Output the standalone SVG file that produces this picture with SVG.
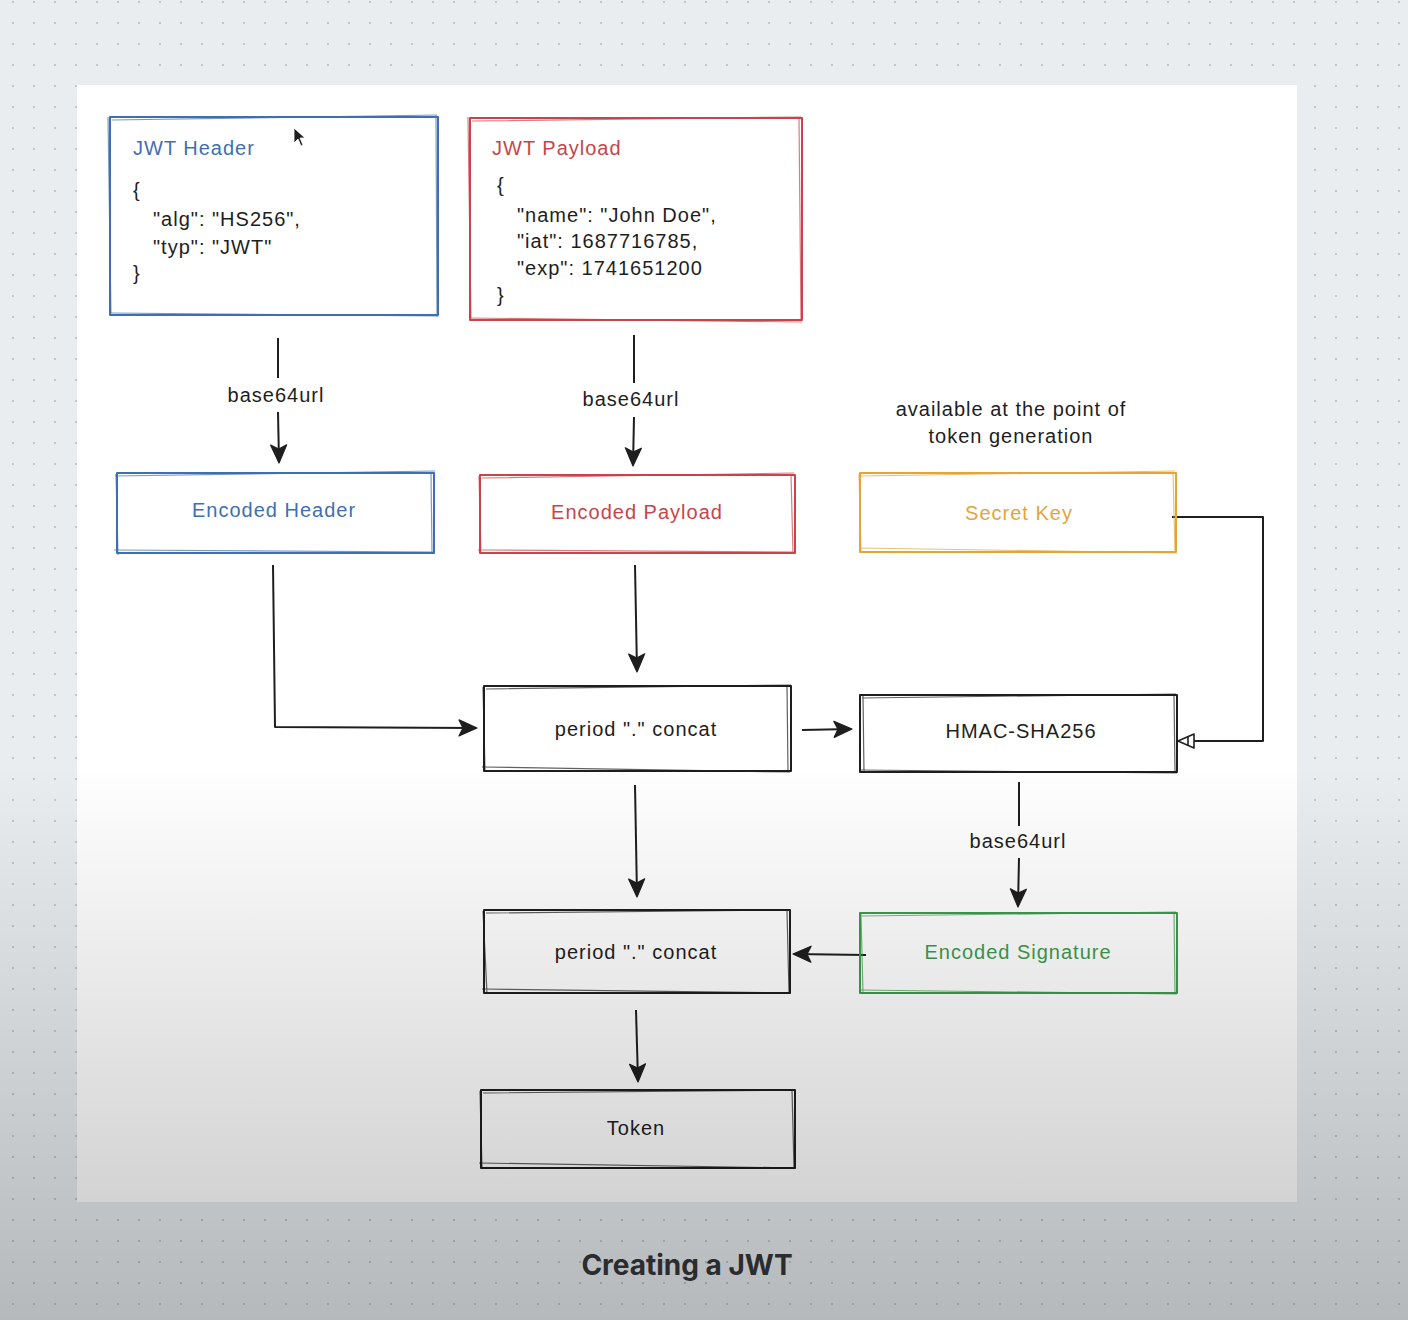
<svg xmlns="http://www.w3.org/2000/svg" width="1408" height="1320" viewBox="0 0 1408 1320">
  <defs>
    <pattern id="dots" x="0" y="0" width="21" height="21" patternUnits="userSpaceOnUse">
      <circle cx="13" cy="2" r="1.1" fill="#b8bec4"/>
    </pattern>
    <linearGradient id="fade" x1="0" y1="0" x2="0" y2="1320" gradientUnits="userSpaceOnUse">
      <stop offset="0" stop-color="#000" stop-opacity="0"/>
      <stop offset="0.58" stop-color="#000" stop-opacity="0"/>
      <stop offset="1" stop-color="#000" stop-opacity="0.22"/>
    </linearGradient>
    <marker id="arrow" viewBox="0 0 20 20" refX="18" refY="10" markerWidth="20" markerHeight="20" markerUnits="userSpaceOnUse" orient="auto">
      <path d="M1,2 L19,10 L1,18 L5,10 Z" fill="#1e1e1e" stroke="#1e1e1e" stroke-width="1.2" stroke-linejoin="round"/>
    </marker>
    <marker id="arrowOpen" viewBox="0 0 20 20" refX="18" refY="10" markerWidth="20" markerHeight="20" markerUnits="userSpaceOnUse" orient="auto">
      <path d="M2,3 L18,10 L2,17 Z M8,6 L8,14" fill="#fff" stroke="#1e1e1e" stroke-width="1.6" stroke-linejoin="round"/>
    </marker>
  </defs>
  <style>
    .hand { font-family: "Liberation Sans", "DejaVu Sans", sans-serif; font-size: 20px; fill: #1e1e1e; letter-spacing: 1px; }
    .mid { text-anchor: middle; }
    .box { fill: none; stroke-width: 2; stroke-linejoin: round; }
    .sk { fill: none; stroke-width: 1.2; opacity: 0.7; }
    .blue { stroke: #3f6fb0; }
    .red { stroke: #c9444a; }
    .orange { stroke: #e3a53a; }
    .green { stroke: #3f9b4e; }
    .black { stroke: #1e1e1e; }
    .tblue { fill: #3f6fb0; }
    .tred { fill: #c9444a; }
    .torange { fill: #e3a53a; }
    .tgreen { fill: #3f9b4e; }
    .edge { fill: none; stroke: #1e1e1e; stroke-width: 2; stroke-linejoin: round; }
    .title { font-family: Inter, "Liberation Sans", sans-serif; font-weight: 700; font-size: 28px; fill: #2a2c30; }
  </style>

  <!-- canvas background with dot grid -->
  <rect x="0" y="0" width="1408" height="1320" fill="#e9edf0"/>
  <rect x="0" y="0" width="1408" height="1320" fill="url(#dots)"/>
  <!-- drawing sheet -->
  <rect x="77" y="85" width="1220" height="1117" fill="#ffffff"/>

  <!-- connectors -->
  <g id="connectors">
    <path class="edge" d="M278,338 L278,378" />
    <path class="edge" d="M278,412 L279,462" marker-end="url(#arrow)"/>
    <path class="edge" d="M634,335 L634,383" />
    <path class="edge" d="M634,417 L633,465" marker-end="url(#arrow)"/>
    <path class="edge" d="M273,565 L275,727 L476,728" marker-end="url(#arrow)"/>
    <path class="edge" d="M635,565 L637,671" marker-end="url(#arrow)"/>
    <path class="edge" d="M802,730 L851,729" marker-end="url(#arrow)"/>
    <path class="edge" d="M1172,517 L1263,517 L1263,741 L1178,741" marker-end="url(#arrowOpen)"/>
    <path class="edge" d="M1019,782 L1019,826" />
    <path class="edge" d="M1019,858 L1018,906" marker-end="url(#arrow)"/>
    <path class="edge" d="M866,955 L794,954" marker-end="url(#arrow)"/>
    <path class="edge" d="M635,785 L637,896" marker-end="url(#arrow)"/>
    <path class="edge" d="M636,1010 L638,1081" marker-end="url(#arrow)"/>
    <text class="hand mid" x="276" y="402">base64url</text>
    <text class="hand mid" x="631" y="406">base64url</text>
    <text class="hand mid" x="1018" y="848">base64url</text>
  </g>

  <!-- JWT Header -->
  <g id="jwt-header">
    <rect class="box blue" x="110" y="117" width="328" height="198"/>
    <path class="sk blue" d="M112,120 L437,115 M108,117 L111,316 M110,313 L438,316 M436,115 L437,317"/>
    <text class="hand tblue" x="133" y="155">JWT Header</text>
    <text class="hand" x="133" y="197">{</text>
    <text class="hand" x="153" y="226">"alg": "HS256",</text>
    <text class="hand" x="153" y="254">"typ": "JWT"</text>
    <text class="hand" x="133" y="280">}</text>
  </g>

  <!-- JWT Payload -->
  <g id="jwt-payload">
    <rect class="box red" x="470" y="118" width="332" height="202"/>
    <path class="sk red" d="M472,121 L801,117 M468,117 L471,321 M469,318 L802,322 M799,119 L801,321"/>
    <text class="hand tred" x="492" y="155">JWT Payload</text>
    <text class="hand" x="497" y="192">{</text>
    <text class="hand" x="517" y="222">"name": "John Doe",</text>
    <text class="hand" x="517" y="248">"iat": 1687716785,</text>
    <text class="hand" x="517" y="275">"exp": 1741651200</text>
    <text class="hand" x="497" y="302">}</text>
  </g>

  <!-- Encoded Header -->
  <g id="encoded-header">
    <rect class="box blue" x="117" y="473" width="317" height="80"/>
    <path class="sk blue" d="M115,476 L435,471 M116,474 L118,555 M114,550 L434,552 M431,472 L432,554"/>
    <text class="hand tblue mid" x="274" y="517">Encoded Header</text>
  </g>

  <!-- Encoded Payload -->
  <g id="encoded-payload">
    <rect class="box red" x="480" y="475" width="315" height="78"/>
    <path class="sk red" d="M482,478 L794,473 M479,476 L481,554 M478,550 L796,552 M791,474 L793,554"/>
    <text class="hand tred mid" x="637" y="519">Encoded Payload</text>
  </g>

  <!-- Secret Key -->
  <g id="secret-key">
    <text class="hand mid" x="1011" y="416">available at the point of</text>
    <text class="hand mid" x="1011" y="443">token generation</text>
    <rect class="box orange" x="860" y="473" width="316" height="79"/>
    <path class="sk orange" d="M861,476 L1175,471 M859,474 L861,552 M860,548 L1177,553 M1173,472 L1175,553"/>
    <text class="hand torange mid" x="1019" y="520">Secret Key</text>
  </g>

  <!-- First concat -->
  <g id="concat-1">
    <rect class="box black" x="484" y="686" width="307" height="85"/>
    <path class="sk black" d="M486,689 L791,685 M483,687 L485,771 M482,767 L790,772 M787,686 L788,772"/>
    <text class="hand mid" x="636" y="736">period "." concat</text>
  </g>

  <!-- HMAC-SHA256 -->
  <g id="hmac">
    <rect class="box black" x="860" y="695" width="317" height="77"/>
    <path class="sk black" d="M862,698 L1176,694 M863,696 L864,773 M859,770 L1177,773 M1174,695 L1175,773"/>
    <text class="hand mid" x="1021" y="738">HMAC-SHA256</text>
  </g>

  <!-- Encoded Signature -->
  <g id="encoded-signature">
    <rect class="box green" x="860" y="913" width="317" height="80"/>
    <path class="sk green" d="M862,916 L1176,912 M861,914 L863,994 M859,990 L1177,994 M1174,912 L1175,994"/>
    <text class="hand tgreen mid" x="1018" y="959">Encoded Signature</text>
  </g>

  <!-- Second concat -->
  <g id="concat-2">
    <rect class="box black" x="484" y="910" width="306" height="83"/>
    <path class="sk black" d="M486,913 L790,910 M483,911 L487,994 M482,989 L791,993 M787,911 L789,994"/>
    <text class="hand mid" x="636" y="959">period "." concat</text>
  </g>

  <!-- Token -->
  <g id="token">
    <rect class="box black" x="481" y="1090" width="314" height="78"/>
    <path class="sk black" d="M483,1093 L795,1090 M480,1091 L482,1169 M479,1163 L796,1168 M792,1090 L794,1169"/>
    <text class="hand mid" x="636" y="1135">Token</text>
  </g>

  <!-- mouse pointer -->
  <path d="M294,128 L294,143 L298,139 L301,146 L303,145 L300,138 L305,138 Z" fill="#1e1e1e" stroke="#fff" stroke-width="0.8"/>

  <!-- darkening toward the bottom -->
  <rect x="0" y="0" width="1408" height="1320" fill="url(#fade)"/>

  <text class="title" x="687" y="1275" text-anchor="middle">Creating a JWT</text>
</svg>
